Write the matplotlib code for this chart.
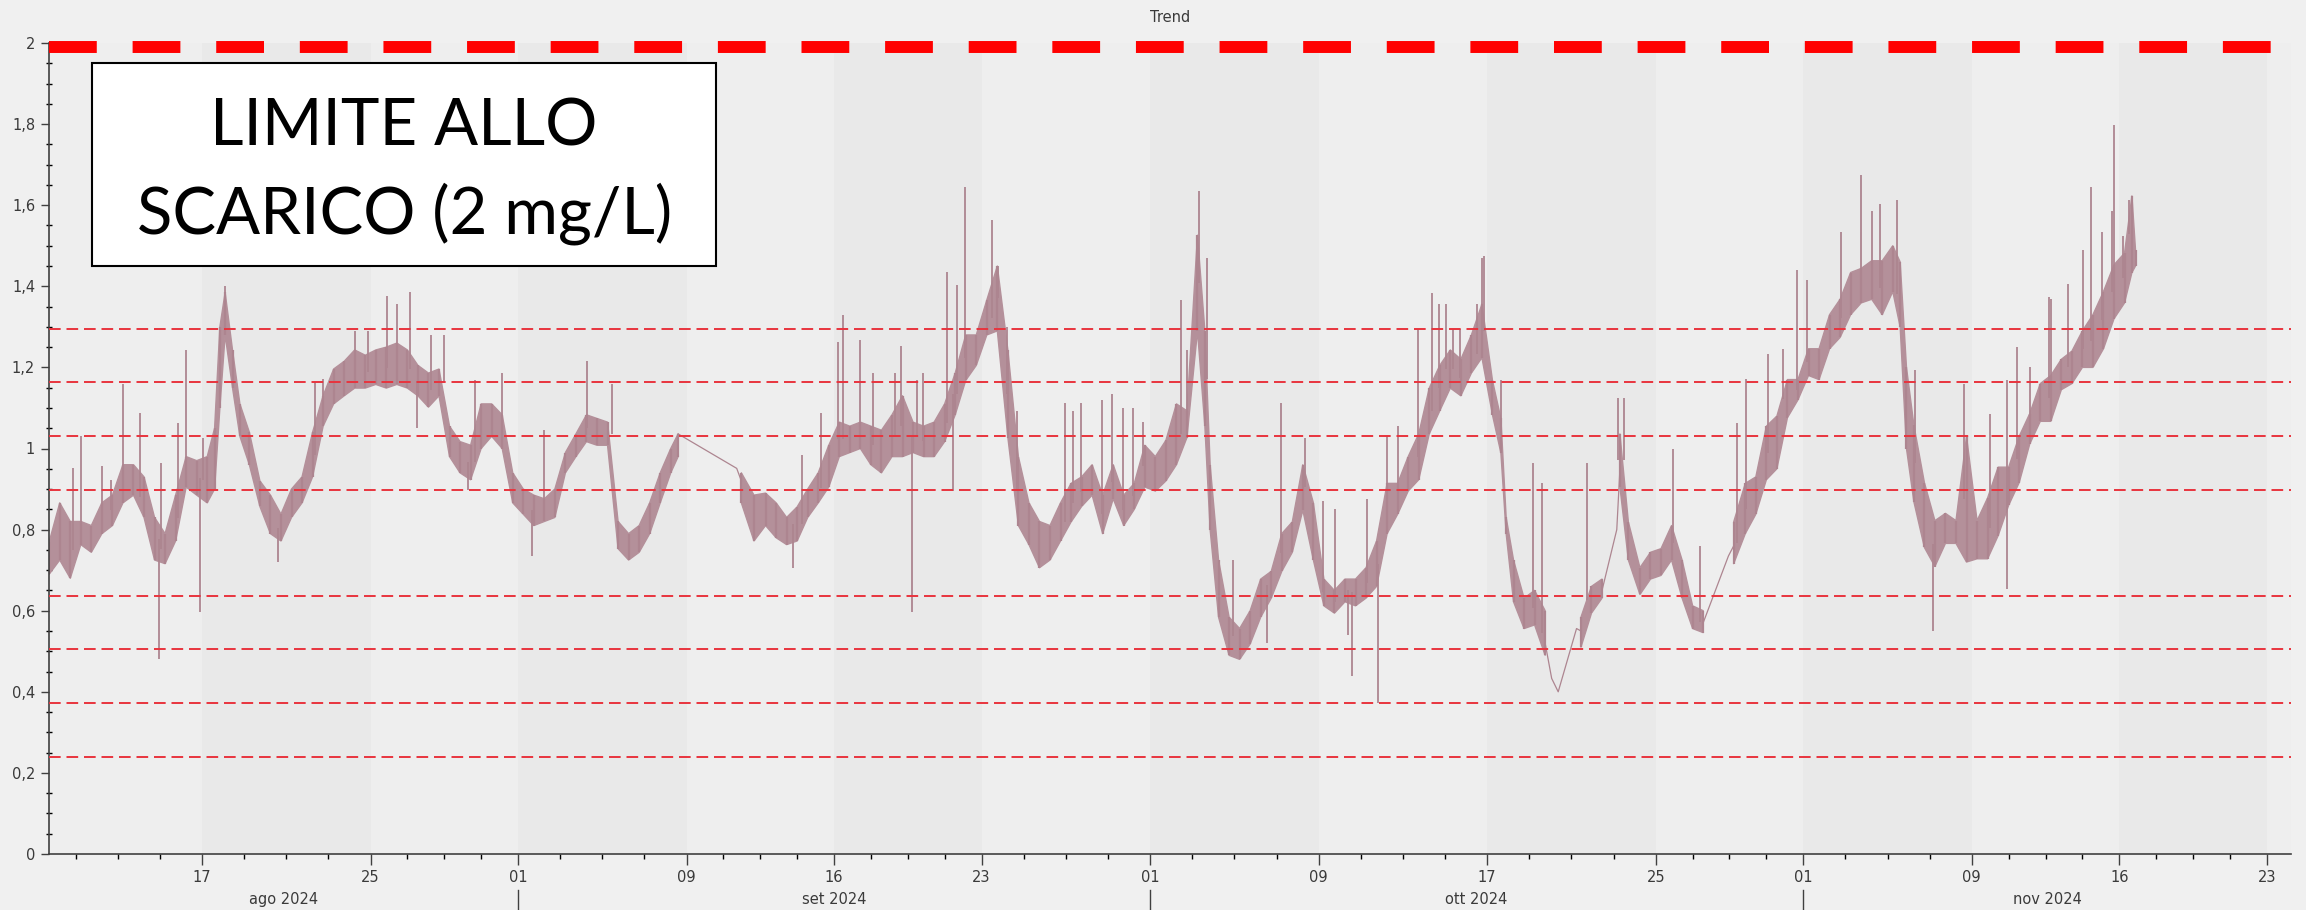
import numpy as np
import matplotlib
matplotlib.use("Agg")
import matplotlib.pyplot as plt
import matplotlib.dates as mdates
import matplotlib.transforms as mtransforms
from matplotlib.patches import Rectangle

nan = np.nan

# days since 2024-08-01 00:00; each row is the spread of the signal over ~half a day
band_t = [8.75, 9.25, 9.75, 10.25, 10.75, 11.25, 11.75, 12.25, 12.75, 13.25,
          13.75, 14.25, 14.75, 15.25, 15.75, 16.25, 16.6, 16.85, 17.1, 17.45,
          17.8, 18.25, 18.75, 19.25, 19.75, 20.25, 20.75, 21.25, 21.75, 22.25,
          22.75, 23.25, 23.75, 24.25, 24.75, 25.25, 25.75, 26.25, 26.75, 27.25,
          27.75, 28.25, 28.75, 29.25, 29.75, 30.25, 30.75, 31.25, 31.75, 32.25,
          32.75, 33.25, 33.75, 34.25, 34.75, 35.25, 35.75, 36.25, 36.75, 37.25,
          37.75, 38.25, 38.6, 38.7, 41.35, 41.6, 42.2, 42.75, 43.25, 43.75,
          44.25, 44.75, 45.25, 45.75, 46.25, 46.75, 47.25, 47.75, 48.25, 48.75,
          49.25, 49.75, 50.25, 50.75, 51.25, 51.75, 52.25, 52.75, 53.25, 53.75,
          54.25, 54.75, 55.25, 55.75, 56.25, 56.75, 57.25, 57.75, 58.25, 58.75,
          59.25, 59.75, 60.25, 60.75, 61.25, 61.75, 62.25, 62.75, 63.25, 63.6,
          63.85, 64.25, 64.75, 65.25, 65.75, 66.25, 66.75, 67.25, 67.75, 68.25,
          68.75, 69.25, 69.75, 70.25, 70.75, 71.25, 71.75, 72.25, 72.75, 73.25,
          73.75, 74.25, 74.75, 75.25, 75.75, 76.25, 76.75, 77.25, 77.65, 77.9,
          78.25, 78.75, 79.25, 79.75, 80.0, 81.25, 81.45, 81.95, 82.45, 82.6,
          83.15, 83.3, 83.7, 84.25, 84.75, 85.25, 85.75, 86.25, 86.75, 87.25,
          87.45, 88.45, 88.7, 89.25, 89.75, 90.25, 90.75, 91.25, 91.75, 92.25,
          92.75, 93.25, 93.75, 94.25, 94.75, 95.25, 95.75, 96.25, 96.6, 96.9,
          97.25, 97.75, 98.25, 98.75, 99.25, 99.75, 100.25, 100.75, 101.25, 101.75,
          102.25, 102.75, 103.25, 103.75, 104.25, 104.75, 105.25, 105.75, 106.25, 106.75,
          107.25, 107.6, 107.77]
band_lo = [0.69, 0.725, 0.68, 0.763, 0.744, 0.79, 0.81, 0.866, 0.885, 0.83,
           0.725, 0.716, 0.772, 0.905, 0.885, 0.866, 0.90, 1.10, 1.28, 1.15,
           1.03, 0.96, 0.857, 0.79, 0.772, 0.83, 0.866, 0.93, 1.055, 1.11,
           1.13, 1.149, 1.149, 1.158, 1.149, 1.158, 1.149, 1.13, 1.102, 1.13,
           0.98, 0.94, 0.923, 1.0, 1.03, 1.0, 0.866, 0.838, 0.81, 0.82,
           0.83, 0.94, 0.98, 1.017, 1.008, 1.008, 0.753, 0.725, 0.744, 0.79,
           0.866, 0.94, 0.98, nan, nan, 0.866, 0.772, 0.81, 0.78, 0.763,
           0.772, 0.83, 0.866, 0.905, 0.98, 0.99, 1.0, 0.96, 0.94, 0.98,
           0.98, 0.99, 0.98, 0.98, 1.017, 1.083, 1.168, 1.205, 1.28, 1.29,
           1.027, 0.81, 0.763, 0.706, 0.725, 0.772, 0.819, 0.857, 0.885, 0.79,
           0.876, 0.81, 0.85, 0.905, 0.895, 0.92, 0.96, 1.027, 1.29, 1.055,
           0.80, 0.584, 0.49, 0.48, 0.518, 0.584, 0.631, 0.697, 0.744, 0.848,
           0.725, 0.612, 0.594, 0.622, 0.612, 0.631, 0.66, 0.79, 0.838, 0.895,
           0.923, 1.036, 1.093, 1.149, 1.13, 1.186, 1.224, 1.083, 0.989, 0.79,
           0.622, 0.556, 0.565, 0.49, nan, nan, 0.51, 0.594, 0.631, nan,
           nan, 0.905, 0.725, 0.64, 0.678, 0.687, 0.725, 0.631, 0.556, 0.546,
           nan, nan, 0.716, 0.79, 0.838, 0.923, 0.95, 1.076, 1.12, 1.18,
           1.17, 1.246, 1.274, 1.33, 1.359, 1.368, 1.33, 1.387, 1.30, 1.0,
           0.869, 0.756, 0.709, 0.766, 0.766, 0.72, 0.728, 0.728, 0.785, 0.86,
           0.916, 1.011, 1.067, 1.067, 1.145, 1.16, 1.2, 1.2, 1.246, 1.32,
           1.359, 1.434, 1.45]
band_hi = [0.77, 0.866, 0.82, 0.82, 0.81, 0.866, 0.885, 0.96, 0.96, 0.93,
           0.83, 0.79, 0.885, 0.98, 0.97, 0.98, 1.05, 1.30, 1.385, 1.243,
           1.11, 1.04, 0.92, 0.885, 0.838, 0.90, 0.93, 1.04, 1.13, 1.196,
           1.215, 1.243, 1.23, 1.243, 1.25, 1.26, 1.243, 1.205, 1.186, 1.196,
           1.055, 1.017, 1.008, 1.11, 1.11, 1.083, 0.94, 0.90, 0.885, 0.876,
           0.90, 0.99, 1.036, 1.083, 1.074, 1.065, 0.82, 0.79, 0.81, 0.866,
           0.94, 1.0, 1.036, nan, nan, 0.94, 0.885, 0.89, 0.866, 0.83,
           0.856, 0.90, 0.94, 1.008, 1.065, 1.055, 1.065, 1.055, 1.045, 1.083,
           1.13, 1.065, 1.055, 1.065, 1.11, 1.186, 1.28, 1.28, 1.366, 1.45,
           1.243, 0.98, 0.866, 0.82, 0.81, 0.866, 0.914, 0.93, 0.96, 0.885,
           0.96, 0.885, 0.914, 1.008, 0.98, 1.02, 1.11, 1.093, 1.526, 1.29,
           0.96, 0.725, 0.584, 0.556, 0.60, 0.678, 0.697, 0.79, 0.819, 0.96,
           0.866, 0.678, 0.65, 0.678, 0.678, 0.706, 0.772, 0.914, 0.914, 0.98,
           1.036, 1.149, 1.205, 1.243, 1.22, 1.28, 1.356, 1.168, 1.074, 0.83,
           0.725, 0.631, 0.65, 0.60, nan, nan, 0.584, 0.66, 0.678, nan,
           nan, 1.036, 0.819, 0.706, 0.744, 0.753, 0.81, 0.725, 0.612, 0.60,
           nan, nan, 0.819, 0.914, 0.93, 1.055, 1.08, 1.17, 1.17, 1.246,
           1.246, 1.33, 1.368, 1.434, 1.444, 1.463, 1.463, 1.50, 1.46, 1.2,
           1.058, 0.916, 0.822, 0.84, 0.822, 1.03, 0.822, 0.878, 0.954, 0.954,
           1.03, 1.086, 1.16, 1.18, 1.22, 1.24, 1.29, 1.33, 1.387, 1.453,
           1.482, 1.623, 1.49]

# isolated single readings standing out of the band
spike_t = [9.90, 10.24, 11.24, 11.67, 12.24, 13.06, 13.98, 14.04, 14.88, 15.23,
           15.91, 16.07, 17.09, 19.63, 21.37, 21.73, 23.26, 23.90, 24.77, 25.24,
           25.87, 26.19, 26.85, 27.49, 28.64, 28.96, 30.23, 31.65, 32.23, 34.26,
           35.45, 44.04, 44.46, 45.37, 46.20, 46.44, 47.23, 47.86, 48.89, 49.16,
           49.68, 49.92, 50.24, 51.35, 51.66, 51.82, 52.21, 53.48, 53.80, 54.22,
           54.70, 56.96, 57.36, 57.70, 58.73, 59.18, 59.73, 60.17, 60.65, 62.45,
           62.74, 63.31, 63.69, 64.92, 66.53, 67.20, 68.35, 69.22, 69.77, 70.41,
           70.57, 71.31, 71.80, 72.23, 72.78, 73.73, 74.40, 74.71, 75.03, 75.36,
           75.71, 76.50, 76.74, 76.85, 77.65, 79.19, 79.58, 81.72, 83.19, 83.48,
           85.83, 87.10, 88.84, 89.28, 90.31, 91.05, 91.72, 92.16, 93.79, 94.74,
           95.25, 95.64, 96.43, 97.30, 98.17, 99.64, 100.86, 101.65, 101.68, 102.13,
           102.76, 103.65, 103.74, 104.58, 105.29, 105.64, 106.16, 106.64, 106.75, 107.19,
           107.47]
spike_v = [0.951, 1.03, 0.956, 0.923, 1.158, 1.088, 0.48, 0.965, 1.064, 1.243,
           0.598, 1.026, 1.40, 0.72, 1.163, 1.172, 1.29, 1.29, 1.375, 1.356,
           1.385, 1.05, 1.28, 1.28, 0.898, 1.168, 1.186, 0.735, 1.045, 1.215,
           1.158, 0.706, 0.984, 1.088, 1.262, 1.328, 1.267, 1.186, 1.186, 1.253,
           0.598, 1.17, 1.186, 1.436, 0.895, 1.403, 1.644, 1.563, 1.45, 1.30,
           1.093, 1.111, 1.093, 1.111, 1.12, 1.135, 1.10, 1.10, 1.065, 1.366,
           1.243, 1.634, 1.47, 0.725, 0.52, 1.111, 1.027, 0.87, 0.85, 0.54,
           0.438, 0.876, 0.372, 1.03, 1.055, 1.295, 1.384, 1.356, 1.356, 1.295,
           1.295, 1.356, 1.469, 1.475, 1.17, 0.965, 0.914, 0.965, 1.125, 1.125,
           1.0, 0.76, 1.064, 1.172, 1.234, 1.246, 1.44, 1.416, 1.533, 1.675,
           1.585, 1.604, 1.613, 1.194, 0.549, 1.16, 1.086, 0.653, 1.17, 1.25,
           1.20, 1.373, 1.368, 1.406, 1.49, 1.644, 1.533, 1.585, 1.797, 1.524,
           1.613]

# stretches with few readings, drawn as a plain line
thin_t = [38.6, 41.38, 41.6, nan, 79.75, 80.06, 80.37, 81.24, 81.45, nan,
          82.45, 83.15, 83.3, nan, 87.25, 88.45, 88.7]
thin_v = [1.036, 0.951, 0.92, nan, 0.52, 0.433, 0.40, 0.556, 0.55, nan,
          0.65, 0.80, 0.95, nan, 0.57, 0.735, 0.76]

ref_levels = [1.295, 1.163, 1.030, 0.898, 0.636, 0.505, 0.372, 0.240]
limit_value = 2.0

major_dates = ['2024-08-17', '2024-08-25', '2024-09-01', '2024-09-09', '2024-09-16',
               '2024-09-23', '2024-10-01', '2024-10-09', '2024-10-17', '2024-10-25',
               '2024-11-01', '2024-11-09', '2024-11-16', '2024-11-23']
month_starts = ['2024-08-01', '2024-09-01', '2024-10-01', '2024-11-01', '2024-12-01']
month_names = ['ago 2024', 'set 2024', 'ott 2024', 'nov 2024']

trace = '#ad8590'
trace_fill = '#b4909a'
ink = '#3a3a3a'

base = mdates.date2num(np.datetime64('2024-08-01'))
x0, x1 = base + 8.74, base + 115.15

bt = base + np.array(band_t)
lo = np.array(band_lo)
hi = np.array(band_hi)
st = base + np.array(spike_t)
sv = np.array(spike_v)

fig = plt.figure(figsize=(23.06, 9.10), dpi=100, facecolor='#f0f0f0')
ax = fig.add_axes([49 / 2306, 56 / 910, (2291 - 49) / 2306, 811 / 910])
ax.set_facecolor('#eeeeee')

majors = mdates.date2num(np.array(major_dates, dtype='datetime64[D]'))
for a, b in zip(majors[0::2], majors[1::2]):
    ax.axvspan(a, b, color='#e9e9e9', lw=0, zorder=0)

# signal: spread band, one stroke per row, then the single readings
ax.fill_between(bt, lo, hi, color=trace_fill, lw=1.0, edgecolor=trace_fill, zorder=2)
ax.vlines(bt, lo, hi, color=trace, lw=1.6, zorder=2)
mids = (lo + hi) / 2
ok = ~np.isnan(mids)
near = np.array([np.flatnonzero(ok)[np.argmin(np.abs(bt[ok] - s))] for s in st])
ax.vlines(st, mids[near], sv, color=trace, lw=1.3, zorder=2)
ax.plot(base + np.array(thin_t), thin_v, color=trace, lw=0.9, zorder=2)

for lv in ref_levels:
    ax.axhline(lv, color='#e8343e', lw=1.4, dashes=(6, 3), zorder=3)

shift = mtransforms.ScaledTranslation(0, -4 / 100, fig.dpi_scale_trans)
ax.plot([x0, x1], [limit_value, limit_value], color='#ff0000', lw=8.6,
        dashes=(4, 3), solid_capstyle='butt', dash_capstyle='butt',
        transform=ax.transData + shift, clip_on=False, zorder=5)

# limit annotation
ax.add_patch(Rectangle((0.0192, 0.725), 0.2784, 0.2503, transform=ax.transAxes,
                       facecolor='white', edgecolor='black', lw=1.5, zorder=6))
ax.text(0.1584, 0.8742, 'LIMITE ALLO', transform=ax.transAxes, ha='center',
        va='baseline', fontsize=47, family='Lato', zorder=7)
ax.text(0.1584, 0.7657, 'SCARICO (2 mg/L)', transform=ax.transAxes, ha='center',
        va='baseline', fontsize=47, family='Lato', zorder=7)

# axes
ax.set_xlim(x0, x1)
ax.set_ylim(0, 2)
for side in ('top', 'right'):
    ax.spines[side].set_visible(False)
for side in ('left', 'bottom'):
    ax.spines[side].set_color('#404040')
    ax.spines[side].set_linewidth(1.2)

yt = np.round(np.arange(0, 2.01, 0.2), 1)
ax.set_yticks(yt)
ax.set_yticklabels([f'{v:g}'.replace('.', ',') for v in yt])
ax.set_yticks(np.arange(0, 2.001, 0.05), minor=True)

edges = np.concatenate([[majors[0] - 8], majors, [majors[-1] + 8]])
minors = np.concatenate([np.linspace(a, b, 5)[1:-1] for a, b in zip(edges[:-1], edges[1:])])
ax.set_xticks(majors)
ax.set_xticklabels([d[-2:] for d in major_dates])
ax.set_xticks(minors[(minors > x0) & (minors < x1)], minor=True)

ax.tick_params(axis='both', colors='#404040', labelcolor=ink, labelsize=10.5)
ax.tick_params(axis='y', which='major', direction='out', length=6, width=1, pad=4)
ax.tick_params(axis='y', which='minor', direction='inout', length=5, width=1)
ax.tick_params(axis='x', which='major', direction='out', length=8, width=1, pad=3.5)
ax.tick_params(axis='x', which='minor', direction='out', length=3.5, width=1)

trans = mtransforms.blended_transform_factory(ax.transData, ax.transAxes)
ms = mdates.date2num(np.array(month_starts, dtype='datetime64[D]'))
for name, a, b in zip(month_names, ms[:-1], ms[1:]):
    lo_x, hi_x = max(a, x0), min(b, x1)
    ax.text((lo_x + hi_x) / 2, -0.0567, name, transform=trans, ha='center',
            va='center', fontsize=10.5, color=ink)
    if x0 < a < x1:
        ax.plot([a, a], [-0.044, -0.069], transform=trans, color='#404040',
                lw=1, clip_on=False)

fig.text(1170 / 2306, 1 - 17 / 910, 'Trend', ha='center', va='center',
         fontsize=10.5, color=ink)

fig.savefig('out.png', dpi=100, facecolor=fig.get_facecolor())
